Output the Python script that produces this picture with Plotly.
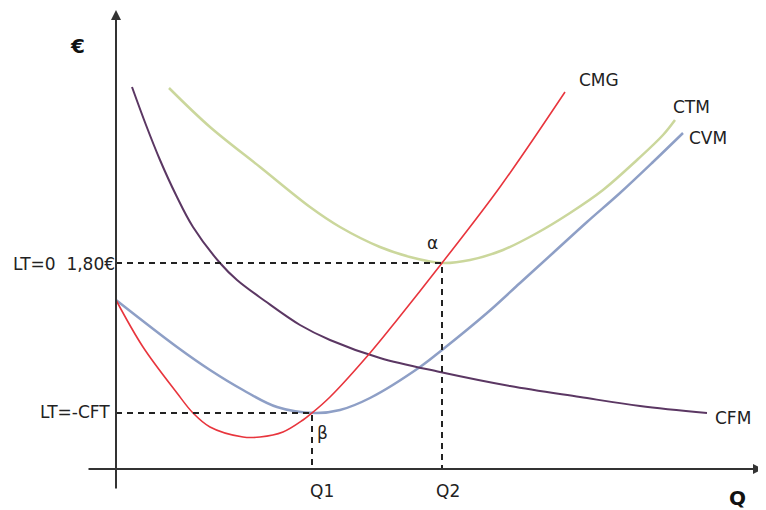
import plotly.graph_objects as go

# Curves (Q on x, € on y) (arbitrary units, origin at axes crossing)
cmg_q = [0, 27, 61, 77, 94, 127, 144, 167, 187, 196, 214, 254, 281, 326, 384, 449]
cmg_v = [169, 122, 76, 56, 42, 32, 32, 37, 49, 56, 72, 116, 149, 206, 282, 377]

cvm_q = [0, 61, 94, 127, 161, 199, 224, 254, 304, 326, 371, 404, 437, 471, 504, 537, 567]
cvm_v = [169, 122, 99, 79, 62, 56, 59, 71, 102, 119, 156, 186, 216, 247, 276, 307, 336]

ctm_q = [53, 94, 144, 194, 224, 264, 294, 326, 354, 387, 421, 454, 487, 521, 547, 559]
ctm_v = [381, 342, 302, 262, 242, 222, 212, 206, 209, 219, 236, 256, 279, 309, 334, 349]

cfm_q = [16, 30, 44, 60, 77, 104, 121, 149, 184, 214, 264, 324, 394, 464, 524, 591]
cfm_v = [382, 344, 309, 274, 242, 206, 189, 168, 144, 129, 111, 97, 83, 72, 63, 56]

# Key points
q1, q2 = 196, 326
p_min_cvm, p_breakeven = 56, 206

curve_names = ["CMG", "CTM", "CVM", "CFM"]
y_label_top = "LT=0  1,80€"
y_label_low = "LT=-CFT"
x_labels = ["Q1", "Q2"]
axis_x_title = "Q"
axis_y_title = "€"

fig = go.Figure()

def curve(x, y, color, width):
    fig.add_trace(go.Scatter(x=x, y=y, mode="lines",
                             line=dict(color=color, width=width, shape="spline", smoothing=1.0),
                             hoverinfo="skip", showlegend=False))

curve(ctm_q, ctm_v, "#cbd79c", 2.5)
curve(cvm_q, cvm_v, "#8e9fc6", 2.5)
curve(cfm_q, cfm_v, "#5b3763", 2.0)
curve(cmg_q, cmg_v, "#e8353d", 1.6)

dash = dict(color="#222222", width=2, dash="6px,5px")
fig.add_trace(go.Scatter(x=[0, q2, q2], y=[p_breakeven, p_breakeven, 0], mode="lines", line=dash, hoverinfo="skip", showlegend=False))
fig.add_trace(go.Scatter(x=[0, q1, q1], y=[p_min_cvm, p_min_cvm, 0], mode="lines", line=dash, hoverinfo="skip", showlegend=False))

# Axes as arrows
fig.add_annotation(x=647, y=0, ax=-29, ay=0, xref="x", yref="y", axref="x", ayref="y",
                   showarrow=True, arrowhead=2, arrowsize=1, arrowwidth=2, arrowcolor="#333333", text="")
fig.add_annotation(x=0, y=459, ax=0, ay=-21, xref="x", yref="y", axref="x", ayref="y",
                   showarrow=True, arrowhead=2, arrowsize=1, arrowwidth=2, arrowcolor="#333333", text="")

font = dict(family="DejaVu Sans", size=17, color="#222222")
def label(x, y, text, xanchor="center", f=font):
    fig.add_annotation(x=x, y=y, text=text, showarrow=False, xanchor=xanchor, yanchor="middle", font=f)

label(cmg_q[-1] + 12, 389, curve_names[0], "left")
label(ctm_q[-1] - 4, 362, curve_names[1], "left")
label(cvm_q[-1] + 4, 331, curve_names[2], "left")
label(cfm_q[-1] + 6, 51, curve_names[3], "left")

label(1, p_breakeven - 1, y_label_top, "right")
label(-4, p_min_cvm + 1, y_label_low, "right")
label(q1 + 10, -22, x_labels[0])
label(q2 + 6, -22, x_labels[1])
label(q2 - 10, 226, "α")
label(q1 + 10, 36, "β")

bold = dict(family="DejaVu Sans", size=20, color="#111111")
label(-39, 423, "<b>" + axis_y_title + "</b>", "center", bold)
label(621, -29, "<b>" + axis_x_title + "</b>", "center", bold)

# The page body adds an 8px offset, so the figure is 758x502 and the ranges are shifted accordingly
fig.update_layout(
    width=758, height=502,
    margin=dict(l=0, r=0, t=0, b=0),
    paper_bgcolor="white", plot_bgcolor="white",
    xaxis=dict(range=[-108, 650], visible=False, fixedrange=True),
    yaxis=dict(range=[-41, 461], visible=False, fixedrange=True),
)

fig.write_html("out.html")
